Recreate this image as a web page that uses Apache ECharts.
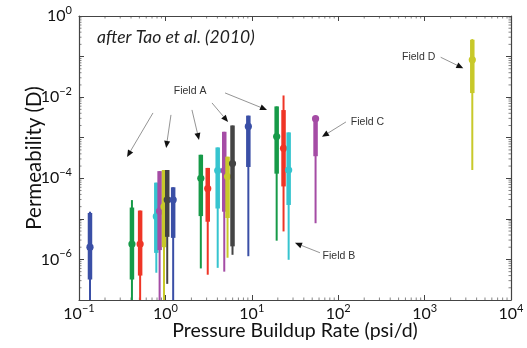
<!DOCTYPE html>
<html><head><meta charset="utf-8">
<script src="https://cdn.jsdelivr.net/npm/echarts@6/dist/echarts.min.js"></script>
<style>html,body{margin:0;padding:0;background:#fff}#c{width:527px;height:348px}</style>
</head><body><div id="c"></div>
<script>
// ---- data ----
const rate     = [0.134, 0.41, 0.51, 0.785, 0.857, 0.964, 1.05, 1.23, 2.57, 3.09, 4.03, 4.80, 5.24, 5.98, 9.12, 19.4, 23.3, 26.7, 54.7, 3565];
const permMin  = [3e-8, 3e-8, 3e-8, 4.7e-7, 3e-8, 3e-8, 2.5e-7, 3e-8, 6.0e-7, 4.2e-7, 6.2e-7, 5.0e-7, 1.1e-6, 1.3e-6, 1.2e-6, 2.9e-6, 4.9e-6, 9.8e-7, 7.8e-6, 1.6e-4];
const permLow  = [3.2e-7, 3.2e-7, 4.0e-7, 1.45e-6, 1.7e-6, 2.0e-6, 3.6e-6, 3.4e-6, 1.17e-5, 8.5e-6, 1.8e-5, 1.5e-5, 1.05e-5, 2.1e-6, 1.9e-4, 1.3e-4, 6.3e-5, 2.2e-5, 3.5e-4, 1.26e-2];
const permMid  = [2.0e-6, 2.4e-6, 2.4e-6, 1.15e-5, 1.55e-5, 2.0e-5, 2.95e-5, 2.95e-5, 1.0e-4, 5.6e-5, 1.55e-4, 1.55e-4, 1.1e-4, 2.3e-4, 1.9e-3, 1.07e-3, 5.5e-4, 1.6e-4, 2.95e-3, 8.3e-2];
const permHigh = [1.4e-5, 1.9e-5, 1.6e-5, 7.8e-5, 1.5e-4, 1.6e-4, 1.6e-4, 6.0e-5, 3.8e-4, 1.8e-4, 5.75e-4, 1.4e-3, 3.4e-4, 2.0e-3, 3.5e-3, 5.9e-3, 4.8e-3, 1.35e-3, 3.1e-3, 0.26];
const permMax  = [1.5e-5, 2.9e-5, 1.6e-5, 7.8e-5, 1.5e-4, 1.6e-4, 1.6e-4, 6.0e-5, 3.8e-4, 1.8e-4, 5.75e-4, 1.4e-3, 3.4e-4, 2.0e-3, 3.5e-3, 5.9e-3, 1.1e-2, 1.35e-3, 3.2e-3, 0.27];
const wellColor = ['blue','green','red','cyan','magenta','yellow','gray','blue','green','red','cyan','magenta','yellow','gray','blue','green','red','cyan','magenta','yellow'];
const yLabelExps  = [0, -2, -4, -6];
// annotations: text, anchor (data coords)
const labelText = ['Field A', 'Field B', 'Field C', 'Field D'];
const labelPos  = [[1.93, 0.0142], [66, 1.23e-6], [140, 2.45e-3], [547, 0.098]];
const labelAlign = ['center', 'left', 'left', 'left'];
// arrows: from -> to (data coords)
const arrowFrom = [[0.718, 4.08e-3], [1.16, 3.65e-3], [2.03, 4.84e-3], [3.46, 7.2e-3], [4.9, 1.27e-2], [123, 2.45e-3], [61.5, 1.46e-6], [1535, 0.0962]];
const arrowTo   = [[0.36, 3.36e-4], [1.02, 5.6e-4], [2.45, 8.8e-4], [5.31, 2.45e-3], [15.0, 4.84e-3], [64.9, 1.05e-3], [31.6, 2.56e-6], [2805, 0.0515]];
const noteText = 'after Tao et al. (2010)';

const palette = {blue:'#3a4fa6', green:'#169a48', red:'#ef3526', cyan:'#36c4cf', magenta:'#a54ca5', yellow:'#c8c92a', gray:'#444444'};
const FONT = 'Lato';

const chart = echarts.init(document.getElementById('c'), null, {renderer:'canvas'});
const seriesData = rate.map((r, i) => [r, permMin[i], permLow[i], permMid[i], permHigh[i], permMax[i], i]);

function expLabel(v) {
  const e = Math.round(Math.log10(v));
  return '{b|10}{s|' + (e < 0 ? '\u2212' + (-e) : e) + '}';
}
const rich = {
  b: {fontSize: 16, fontFamily: FONT, color: '#111', lineHeight: 22},
  s: {fontSize: 11, fontFamily: FONT, color: '#111', verticalAlign: 'top', lineHeight: 12}
};
const frameLine = {show: true, lineStyle: {color: '#444', width: 1.2}};
const majorTick = {show: true, inside: true, length: 5, lineStyle: {color: '#444', width: 1}};

chart.setOption({
  animation: false,
  grid: {left: 79, right: 16, top: 16, bottom: 48},
  xAxis: [{
    type: 'log', logBase: 10, min: 0.1, max: 10000, splitNumber: 5, position: 'bottom',
    axisLine: frameLine, axisTick: majorTick, splitLine: {show: false},
    axisLabel: {margin: 3, formatter: v => expLabel(v), rich: rich},
    name: 'Pressure Buildup Rate (psi/d)', nameLocation: 'middle', nameGap: 21, nameMoveOverlap: false,
    nameTextStyle: {fontSize: 19.5, fontFamily: FONT, color: '#111'}
  }, {
    type: 'log', logBase: 10, min: 0.1, max: 10000, splitNumber: 5, position: 'top',
    axisLine: frameLine, axisTick: majorTick, splitLine: {show: false}, axisLabel: {show: false}
  }],
  yAxis: [{
    type: 'log', logBase: 10, min: 1e-7, max: 1, splitNumber: 7, position: 'left',
    axisLine: frameLine, axisTick: majorTick, splitLine: {show: false},
    axisLabel: {margin: 7, formatter: v => {
      const e = Math.round(Math.log10(v));
      return yLabelExps.indexOf(e) >= 0 ? expLabel(v) : '';
    }, rich: rich},
    name: 'Permeability (D)', nameLocation: 'middle', nameGap: 34, nameMoveOverlap: false,
    nameTextStyle: {fontSize: 20.5, fontFamily: FONT, color: '#111'}
  }, {
    type: 'log', logBase: 10, min: 1e-7, max: 1, splitNumber: 7, position: 'right',
    axisLine: frameLine, axisTick: majorTick, splitLine: {show: false}, axisLabel: {show: false}
  }],
  series: [{
    type: 'custom', clip: true,
    encode: {x: 0, y: [1, 2, 3, 4, 5]},
    data: seriesData,
    renderItem: function (params, api) {
      const x = api.value(0);
      const col = palette[wellColor[api.value(6)]];
      const pMin = api.coord([x, api.value(1)]);
      const pLow = api.coord([x, api.value(2)]);
      const pMid = api.coord([x, api.value(3)]);
      const pHigh = api.coord([x, api.value(4)]);
      const pMax = api.coord([x, api.value(5)]);
      return {type: 'group', children: [
        {type: 'line', shape: {x1: pMin[0], y1: pMin[1], x2: pMax[0], y2: pMax[1]}, style: {stroke: col, lineWidth: 2}},
        {type: 'line', shape: {x1: pLow[0], y1: pLow[1], x2: pHigh[0], y2: pHigh[1]}, style: {stroke: col, lineWidth: 4.5}},
        {type: 'circle', shape: {cx: pMid[0], cy: pMid[1], r: 3.6}, style: {fill: col}}
      ]};
    }
  }]
});

// ---- decorations: minor ticks, annotations, arrows ----
function px(p) { return chart.convertToPixel({gridIndex: 0}, p); }
const g = [];
const tl = px([0.1, 1]), br = px([10000, 1e-7]);
const L = tl[0], T = tl[1], R = br[0], B = br[1];
for (let d = -1; d < 4; d++) for (let k = 2; k < 10; k++) {
  const xx = px([k * Math.pow(10, d), 1])[0];
  g.push({type: 'line', shape: {x1: xx, y1: B, x2: xx, y2: B - 2.5}, style: {stroke: '#666', lineWidth: 0.8}});
  g.push({type: 'line', shape: {x1: xx, y1: T, x2: xx, y2: T + 2.5}, style: {stroke: '#666', lineWidth: 0.8}});
}
for (let d = -7; d < 0; d++) for (let k = 2; k < 10; k++) {
  const yy = px([1, k * Math.pow(10, d)])[1];
  g.push({type: 'line', shape: {x1: L, y1: yy, x2: L + 2.5, y2: yy}, style: {stroke: '#666', lineWidth: 0.8}});
  g.push({type: 'line', shape: {x1: R, y1: yy, x2: R - 2.5, y2: yy}, style: {stroke: '#666', lineWidth: 0.8}});
}
labelText.forEach((t, i) => {
  const p = px(labelPos[i]);
  g.push({type: 'text', x: p[0], y: p[1], style: {text: t, fill: '#333', font: '10.5px "Liberation Sans", Arial', textAlign: labelAlign[i], textVerticalAlign: 'middle'}});
});
arrowFrom.forEach((f, i) => {
  const a = px(f), b = px(arrowTo[i]);
  const ang = Math.atan2(b[1] - a[1], b[0] - a[0]);
  const hl = 7, hw = 3;
  const bx = b[0] - hl * Math.cos(ang), by = b[1] - hl * Math.sin(ang);
  g.push({type: 'line', shape: {x1: a[0], y1: a[1], x2: bx, y2: by}, style: {stroke: '#888', lineWidth: 0.9}});
  g.push({type: 'polygon', shape: {points: [[b[0], b[1]], [bx - hw * Math.sin(ang), by + hw * Math.cos(ang)], [bx + hw * Math.sin(ang), by - hw * Math.cos(ang)]]}, style: {fill: '#111'}});
});
g.push({type: 'text', x: 97, y: 37, style: {text: noteText, fill: '#222', font: 'italic 17.5px Lato', textVerticalAlign: 'middle'}});
chart.setOption({graphic: g});
</script></body></html>
